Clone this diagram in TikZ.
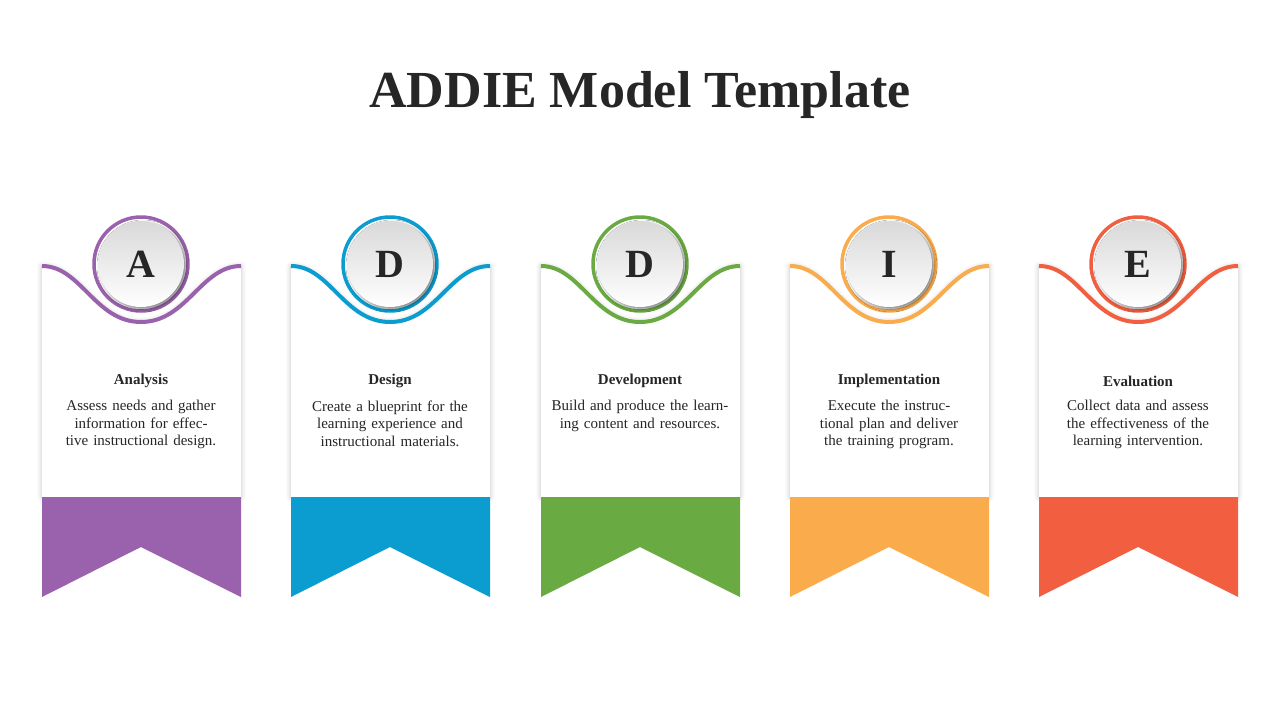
\documentclass[tikz,border=0pt]{standalone}
\usepackage{fontspec}
\setmainfont{Liberation Serif}
\usetikzlibrary{shadows.blur}
\definecolor{cA}{HTML}{9A62AC}
\definecolor{cB}{HTML}{0B9DD0}
\definecolor{cC}{HTML}{6AAA43}
\definecolor{cD}{HTML}{FAAC4C}
\definecolor{cE}{HTML}{F15F40}
\definecolor{ink}{HTML}{262626}
\tikzset{
  card/.style={fill=white, blur shadow={shadow xshift=0pt, shadow yshift=0pt, shadow blur radius=5pt, shadow opacity=25}},
  head/.style={font=\fontsize{15}{17}\selectfont\bfseries, text=ink},
  body/.style={font=\fontsize{15}{17.5}\selectfont, text=ink, align=center, text width=185pt},
  letter/.style={font=\fontsize{40}{40}\selectfont\bfseries, text=ink}
}
\begin{document}
\begin{tikzpicture}[x=1pt,y=-1pt]
\useasboundingbox (0,0) rectangle (1280,720);
\node[font=\fontsize{52}{52}\selectfont\bfseries, text=ink] (title) at (640,95) {ADDIE Model Template};
\foreach \cx/\col/\L/\H/\T [count=\i] in {
 141/cA/A/Analysis/{Assess needs and gather information for effective instructional design.},
 390/cB/D/Design/{Create a blueprint for the learning experience and instructional materials.},
 640/cC/D/Development/{Build and produce the learning content and resources.},
 889/cD/I/Implementation/{Execute the instructional plan and deliver the training program.},
 1138/cE/E/Evaluation/{Collect data and assess the effectiveness of the learning intervention.}}{
  \begin{scope}[shift={(\cx,0)}]
   \path[card] (-99,266) .. controls (-60,266) and (-46,322) .. (0,322) .. controls (46,322) and (60,266) .. (100,266) -- (100,497) -- (-99,497) -- cycle;
   \fill[\col] (-99,497) -- (100,497) -- (100,597) -- (0,547) -- (-99,597) -- cycle;
   \draw[\col, line width=4pt] (-99,266) .. controls (-60,266) and (-46,322) .. (0,322) .. controls (46,322) and (60,266) .. (100,266);
   \draw[\col, line width=3.5pt, fill=white] (0,264) circle (47);
   \shade[top color=black!15, bottom color=white, blur shadow={shadow xshift=2pt, shadow yshift=-2pt, shadow blur radius=3pt, shadow opacity=50}] (0,264) circle (43);
   \node[letter] (l\i) at (0,264) {\L};
   \node[head] (h\i) at (0,381) {\H};
   \node[body, anchor=north] (t\i) at (0,397) {\T};
  \end{scope}
}
\end{tikzpicture}
\end{document}
